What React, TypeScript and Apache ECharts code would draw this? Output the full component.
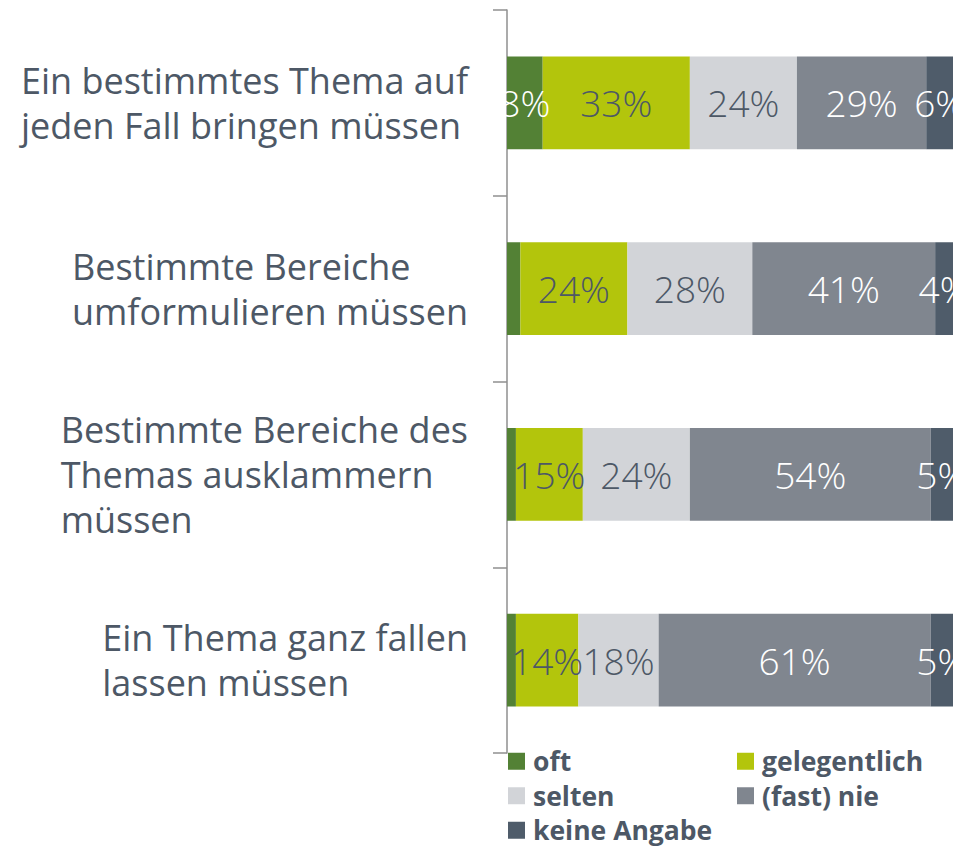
import React, { useEffect, useRef } from "react";
import * as echarts from "echarts";

const categories = [
  ["Ein bestimmtes Thema auf", "jeden Fall bringen müssen"],
  ["Bestimmte Bereiche", "umformulieren müssen"],
  ["Bestimmte Bereiche des", "Themas ausklammern", "müssen"],
  ["Ein Thema ganz fallen", "lassen müssen"],
];
const seriesNames = ["oft", "gelegentlich", "selten", "(fast) nie", "keine Angabe"];
const oft = [8, 3, 2, 2];
const gelegentlich = [33, 24, 15, 14];
const selten = [24, 28, 24, 18];
const fastNie = [29, 41, 54, 61];
const keineAngabe = [6, 4, 5, 5];

const seriesValues = [oft, gelegentlich, selten, fastNie, keineAngabe];
const colors = ["#538135", "#b3c50c", "#d2d4d8", "#80868f", "#4f5c6a"];
const labelColors = ["#ffffff", "#4d5866", "#4d5866", "#ffffff", "#ffffff"];
const textColor = "#4d5866";
const font = "'Open Sans', 'Noto Sans', sans-serif";

export default function App() {
  const ref = useRef<HTMLDivElement>(null);
  useEffect(() => {
    if (!ref.current) return;
    const chart = echarts.init(ref.current, undefined, { renderer: "svg" });
    const catKeys = categories.map((c) => c.join("\n"));
    chart.setOption({
      animation: false,
      grid: { left: 499, top: 2, right: 18, bottom: 95, containLabel: false },
      xAxis: { type: "value", min: 0, max: 100, show: false },
      yAxis: {
        type: "category",
        inverse: true,
        data: catKeys,
        axisLine: { show: true, lineStyle: { color: "#8f8f8f", width: 1.5 } },
        axisTick: { show: true, length: 14, lineStyle: { color: "#8f8f8f", width: 1.5 } },
        axisLabel: {
          margin: 39,
          color: textColor,
          fontFamily: font,
          fontSize: 36,
          formatter: (v: string) => v.split("\n").map((s) => "{l|" + s + "}").join("\n"),
          rich: {
            l: { align: "left", color: textColor, fontFamily: font, fontSize: 36, lineHeight: 45 },
          },
        },
      },
      legend: {
        left: 500,
        top: 736,
        width: 463,
        padding: 0,
        itemGap: 0,
        itemWidth: 17,
        itemHeight: 17,
        icon: "rect",
        data: seriesNames,
        textStyle: {
          color: textColor,
          fontFamily: font,
          fontSize: 26.5,
          fontWeight: "bold",
          width: 204,
          lineHeight: 34.5,
          padding: [0, 0, 0, 3],
        },
      },
      series: seriesNames.map((name, i) => ({
        name,
        type: "bar",
        stack: "total",
        barCategoryGap: "50%",
        data: seriesValues[i],
        itemStyle: { color: colors[i] },
        label: {
          show: true,
          position: "inside",
          color: labelColors[i],
          fontFamily: font,
          fontSize: 37,
          fontWeight: 300,
          formatter: (p: any) => (p.value >= 4 ? p.value + "%" : ""),
        },
      })),
    });
    return () => chart.dispose();
  }, []);
  return <div ref={ref} style={{ width: 963, height: 840 }} />;
}
